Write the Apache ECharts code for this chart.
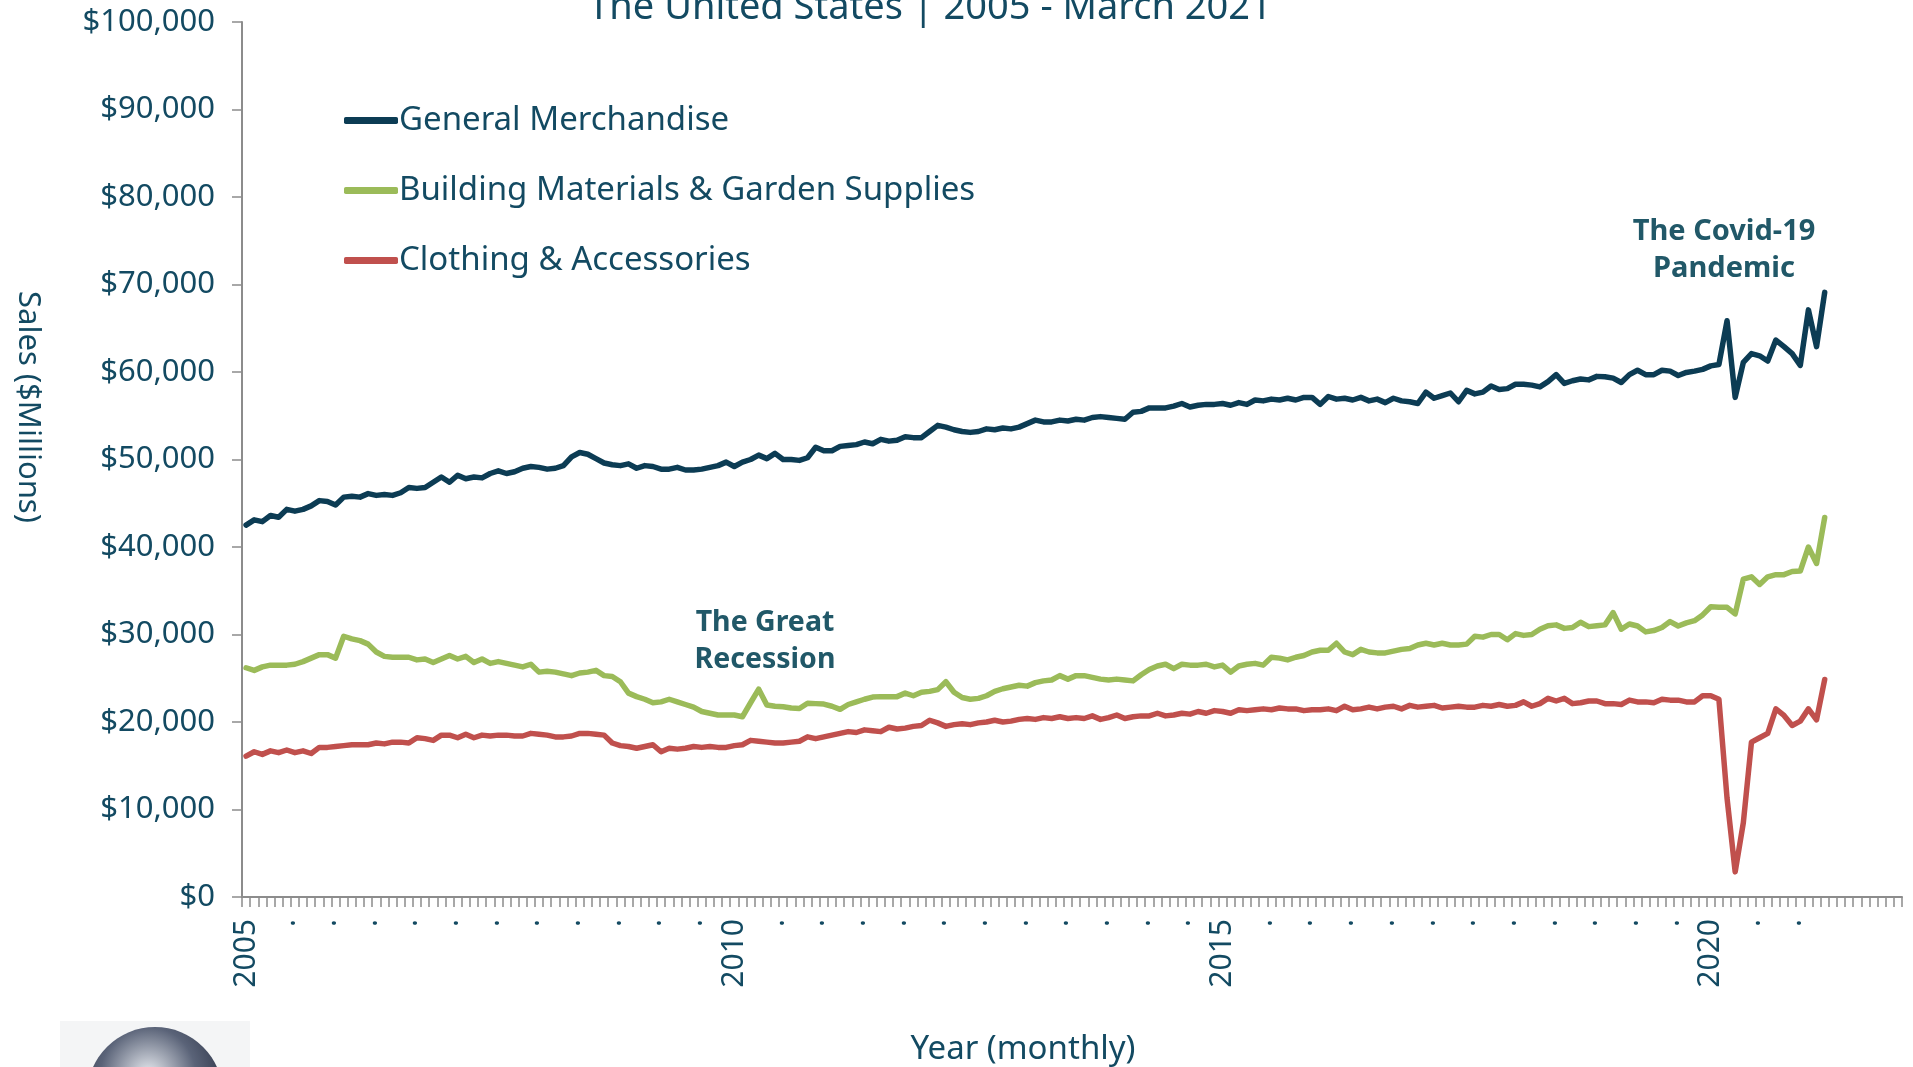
<!DOCTYPE html>
<html>
<head>
<meta charset="utf-8">
<script src="https://cdn.jsdelivr.net/npm/echarts@6/dist/echarts.min.js"></script>
<style>
html,body{margin:0;padding:0;background:#fff;}
#chart{width:1913px;height:1067px;}
</style>
</head>
<body>
<div id="chart"></div>
<script>
// ---- Data (monthly, seasonally adjusted, $ millions) ----
const startYear = 2005;
const axisEndYear = 2021;          // axis runs through Dec 2021
const lastDataIndex = 194;         // March 2021
const seriesNames = ['General Merchandise', 'Building Materials & Garden Supplies', 'Clothing & Accessories'];

const generalMerchandise = [
  42500, 43100, 42900, 43600, 43400, 44300, 44100, 44300, 44700, 45300, 45200, 44800,
  45700, 45800, 45700, 46100, 45900, 46000, 45900, 46200, 46800, 46700, 46800, 47400,
  48000, 47400, 48200, 47800, 48000, 47900, 48400, 48700, 48400, 48600, 49000, 49200,
  49100, 48900, 49000, 49300, 50300, 50800, 50600, 50100, 49600, 49400, 49300, 49500,
  49000, 49300, 49200, 48900, 48900, 49100, 48800, 48800, 48900, 49100, 49300, 49700,
  49200, 49700, 50000, 50500, 50100, 50700, 50000, 50000, 49900, 50200, 51400, 51000,
  51000, 51500, 51600, 51700, 52000, 51800, 52300, 52100, 52200, 52600, 52500, 52500,
  53200, 53900, 53700, 53400, 53200, 53100, 53200, 53500, 53400, 53600, 53500, 53700,
  54100, 54500, 54300, 54300, 54500, 54400, 54600, 54500, 54800, 54900, 54800, 54700,
  54600, 55400, 55500, 55900, 55900, 55900, 56100, 56400, 56000, 56200, 56300, 56300,
  56400, 56200, 56500, 56300, 56800, 56700, 56900, 56800, 57000, 56800, 57100, 57100,
  56300, 57200, 56900, 57000, 56800, 57100, 56700, 56900, 56500, 57000, 56700, 56600,
  56400, 57700, 57000, 57300, 57600, 56600, 57900, 57500, 57700, 58400, 58000, 58100,
  58600, 58600, 58500, 58300, 58900, 59700, 58700, 59000, 59200, 59100, 59500, 59450,
  59300, 58800, 59700, 60200, 59700, 59700, 60200, 60100, 59600, 59950, 60100, 60300,
  60700, 60850, 65850, 57100, 61100, 62100, 61850, 61250, 63650, 62900, 62100, 60750,
  67100, 62900, 69100
];

const buildingMaterials = [
  26200, 25900, 26300, 26500, 26500, 26500, 26600, 26900, 27300, 27700, 27700, 27300,
  29800, 29500, 29300, 28900, 28000, 27500, 27400, 27400, 27400, 27100, 27200, 26800,
  27200, 27600, 27200, 27500, 26800, 27200, 26700, 26900, 26700, 26500, 26300, 26600,
  25700, 25800, 25700, 25500, 25300, 25600, 25700, 25900, 25300, 25200, 24600, 23300,
  22900, 22600, 22200, 22300, 22600, 22300, 22000, 21700, 21200, 21000, 20800, 20800,
  20800, 20600, 22200, 23750, 21950, 21800, 21750, 21600, 21550, 22150, 22100, 22050,
  21800, 21450, 22000, 22300, 22600, 22850, 22900, 22900, 22900, 23300, 23000, 23400,
  23500, 23700, 24600, 23400, 22800, 22600, 22700, 23000, 23500, 23800, 24000, 24200,
  24100, 24500, 24700, 24800, 25300, 24900, 25300, 25300, 25100, 24900, 24800, 24900,
  24800, 24700, 25400, 26000, 26400, 26600, 26100, 26600, 26500, 26500, 26600, 26300,
  26500, 25700, 26400, 26600, 26700, 26500, 27400, 27300, 27100, 27400, 27600, 28000,
  28200, 28200, 29000, 28000, 27700, 28300, 28000, 27900, 27900, 28100, 28300, 28400,
  28800, 29000, 28800, 29000, 28800, 28800, 28900, 29800, 29700, 30000, 30000, 29400,
  30100, 29900, 30000, 30600, 31000, 31100, 30700, 30800, 31400, 30900, 31000, 31100,
  32500, 30600, 31200, 30970, 30300, 30450, 30800, 31480, 30970, 31330, 31580, 32240,
  33170, 33110, 33110, 32350, 36330, 36590, 35720, 36590, 36840, 36840, 37200, 37250,
  40000, 38120, 43380
];

const clothing = [
  16100, 16600, 16300, 16700, 16500, 16800, 16500, 16700, 16400, 17100, 17100, 17200,
  17300, 17400, 17400, 17400, 17600, 17500, 17700, 17700, 17600, 18200, 18100, 17900,
  18500, 18500, 18200, 18600, 18200, 18500, 18400, 18500, 18500, 18400, 18400, 18700,
  18600, 18500, 18300, 18300, 18400, 18700, 18700, 18600, 18500, 17600, 17300, 17200,
  17000, 17200, 17400, 16600, 17000, 16900, 17000, 17200, 17100, 17200, 17100, 17100,
  17300, 17400, 17900, 17800, 17700, 17600, 17600, 17700, 17800, 18300, 18100, 18300,
  18500, 18700, 18900, 18800, 19100, 19000, 18900, 19400, 19200, 19300, 19500, 19600,
  20200, 19900, 19500, 19700, 19800, 19700, 19900, 20000, 20200, 20000, 20100, 20300,
  20400, 20300, 20500, 20400, 20600, 20400, 20500, 20400, 20700, 20300, 20500, 20800,
  20400, 20600, 20700, 20700, 21000, 20700, 20800, 21000, 20900, 21200, 21000, 21300,
  21200, 21000, 21400, 21300, 21400, 21500, 21400, 21600, 21500, 21500, 21300, 21400,
  21400, 21500, 21300, 21800, 21400, 21500, 21700, 21500, 21700, 21800, 21500, 21900,
  21700, 21800, 21900, 21600, 21700, 21800, 21700, 21700, 21900, 21800, 22000, 21800,
  21900, 22300, 21800, 22100, 22700, 22400, 22700, 22100, 22200, 22400, 22400, 22100,
  22100, 22000, 22500, 22300, 22300, 22200, 22600, 22500, 22500, 22300, 22300, 23000,
  23000, 22600, 11300, 2870, 8490, 17700, 18200, 18700, 21500, 20750, 19600, 20100,
  21500, 20250, 24850
];

const yTicks = { min: 0, max: 100000, interval: 10000 };

// Category labels: year on January, "." for other months, blank past the data
const categories = [];
for (let y = startYear; y <= axisEndYear; y++) {
  for (let m = 0; m < 12; m++) {
    const idx = categories.length;
    if (idx > lastDataIndex) categories.push('');
    else categories.push(m === 0 ? String(y) : '.');
  }
}

const textColor = '#134a62';
const annColor = '#215868';
const axisGray = '#8c8c8c';
const FONT = '"Noto Sans", "Open Sans", sans-serif';

const chart = echarts.init(document.getElementById('chart'), null, { renderer: 'canvas' });

function lineSeries(name, data, color) {
  return {
    name: name, type: 'line', data: data, showSymbol: false, symbol: 'none',
    lineStyle: { color: color, width: 5.5, cap: 'round', join: 'round' },
    itemStyle: { color: color }, animation: false
  };
}

chart.setOption({
  backgroundColor: '#ffffff',
  animation: false,
  grid: { left: 242, right: 11, top: 22, bottom: 170, containLabel: false },
  legend: {
    orient: 'vertical', left: 339, top: 98, itemGap: 35,
    itemWidth: 54, itemHeight: 7, icon: 'roundRect',
    textStyle: { color: textColor, fontSize: 33, lineHeight: 35, fontFamily: FONT, padding: [0, 0, 0, -4] },
    data: seriesNames
  },
  xAxis: {
    type: 'category', data: categories, boundaryGap: true,
    axisLine: { lineStyle: { color: axisGray, width: 2 } },
    axisTick: { show: true, interval: 0, length: 10, lineStyle: { color: axisGray, width: 1.5 } },
    axisLabel: { interval: 4, rotate: 90, margin: 22, color: textColor, fontSize: 30, fontFamily: FONT },
    splitLine: { show: false }
  },
  yAxis: {
    type: 'value', min: yTicks.min, max: yTicks.max, interval: yTicks.interval,
    axisLine: { show: true, lineStyle: { color: axisGray, width: 2 } },
    axisTick: { show: true, length: 10, lineStyle: { color: axisGray, width: 1.5 } },
    axisLabel: {
      margin: 27, color: textColor, fontSize: 31, fontFamily: FONT,
      formatter: v => '$' + v.toLocaleString('en-US')
    },
    splitLine: { show: false }
  },
  series: [
    lineSeries(seriesNames[0], generalMerchandise, '#0c3c54'),
    lineSeries(seriesNames[1], buildingMaterials, '#9bbb59'),
    lineSeries(seriesNames[2], clothing, '#c0504d')
  ],
  graphic: [
    { type: 'text', silent: true, style: {
        text: 'The United States | 2005 - March 2021', x: 930, y: 8, textAlign: 'center', textVerticalAlign: 'middle',
        font: '38px ' + FONT, fill: textColor } },
    { type: 'text', silent: true, x: 28, y: 407, rotation: -Math.PI / 2, style: {
        text: 'Sales ($Millions)', x: 0, y: 0, textAlign: 'center', textVerticalAlign: 'middle',
        font: '31px ' + FONT, fill: textColor } },
    { type: 'text', silent: true, style: {
        text: 'Year (monthly)', x: 1023, y: 1050, textAlign: 'center', textVerticalAlign: 'middle',
        font: '33px ' + FONT, fill: textColor } },
    { type: 'text', silent: true, style: {
        text: 'The Great\nRecession', x: 765, y: 641, textAlign: 'center', textVerticalAlign: 'middle',
        lineHeight: 37, font: 'bold 28.5px ' + FONT, fill: annColor } },
    { type: 'text', silent: true, style: {
        text: 'The Covid-19\nPandemic', x: 1724, y: 250, textAlign: 'center', textVerticalAlign: 'middle',
        lineHeight: 37, font: 'bold 29px ' + FONT, fill: annColor } },
    { type: 'rect', silent: true, shape: { x: 60, y: 1021, width: 190, height: 46 }, style: { fill: '#f4f5f6' } },
    { type: 'circle', silent: true, shape: { cx: 155, cy: 1095, r: 68 }, style: {
        fill: new echarts.graphic.RadialGradient(0.45, 0.35, 0.7, [
          { offset: 0, color: '#e8ebf0' }, { offset: 0.5, color: '#5a6378' }, { offset: 1, color: '#1e2436' }
        ]) } }
  ]
});
</script>
</body>
</html>
